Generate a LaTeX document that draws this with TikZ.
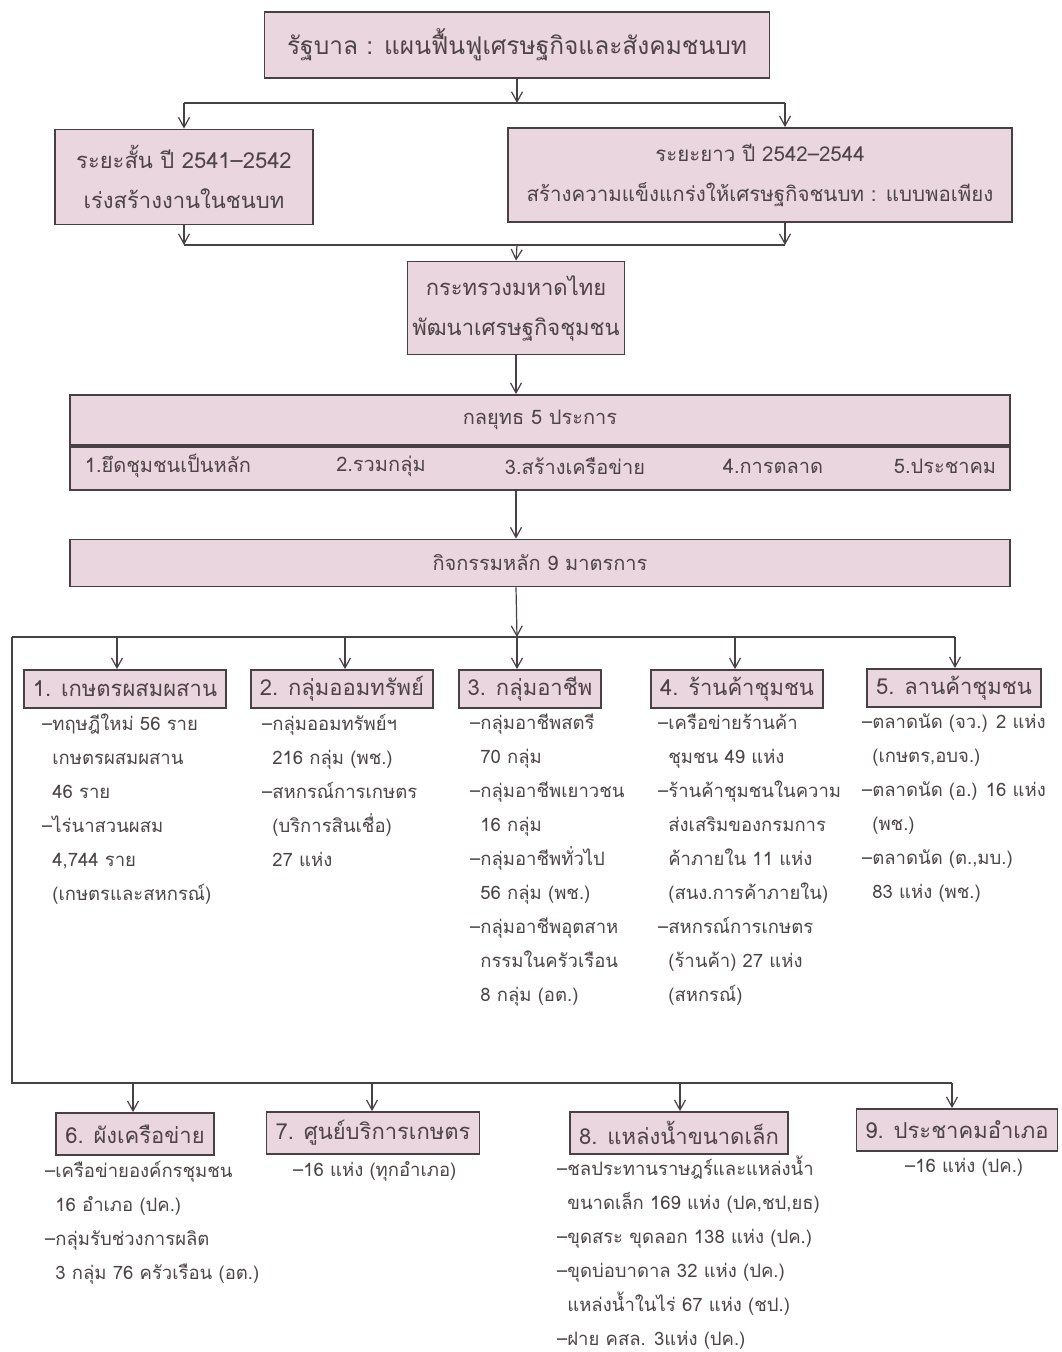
\documentclass[tikz,border=0pt]{standalone}
\usepackage{fontspec}
\newfontfamily\thaifont[Script=Thai]{Loma}
\usetikzlibrary{arrows.meta,positioning}
\definecolor{boxpink}{RGB}{233,214,222}
\definecolor{boxline}{RGB}{72,64,68}
\definecolor{inkgray}{RGB}{78,68,70}
\newcommand{\ind}{\phantom{–}}
\begin{document}
\begin{tikzpicture}[x=1pt, y=-1pt, >={Straight Barb[length=10pt,width=11pt]},
	hbox/.style={draw=boxline, fill=boxpink, line width=1.8pt, inner sep=0pt, text=inkgray},
	headbox/.style={hbox, inner xsep=9pt, minimum height=38pt, font=\thaifont\fontsize{22}{26}\selectfont},
	blist/.style={anchor=north west, align=left, inner sep=0pt, text=inkgray, font=\thaifont\fontsize{18.5}{34}\selectfont},
	conn/.style={draw=boxline, line width=1.2pt}]
	\useasboundingbox (0,0) rectangle (1062,1352);
	
	% 1. กล่องบนสุด
	\node[hbox, minimum width=505pt, minimum height=66pt, font=\thaifont\fontsize{24.5}{30}\selectfont] (govt) at (517,45) {รัฐบาล : แผนฟื้นฟูเศรษฐกิจและสังคมชนบท};
	\node[hbox, minimum width=258pt, minimum height=95pt, align=center, font=\thaifont\fontsize{22}{40}\selectfont] (short) at (184,177) {ระยะสั้น ปี 2541–2542\\เร่งสร้างงานในชนบท};
	\node[hbox, minimum width=504pt, minimum height=94pt, align=center, font=\thaifont\fontsize{20.5}{40}\selectfont] (long) at (760,175) {ระยะยาว ปี 2542–2544\\สร้างความแข็งแกร่งให้เศรษฐกิจชนบท : แบบพอเพียง};
	\node[hbox, minimum width=217pt, minimum height=93pt, align=center, font=\thaifont\fontsize{22}{40}\selectfont] (moi) at (516,308) {กระทรวงมหาดไทย\\พัฒนาเศรษฐกิจชุมชน};
	
	% 2. กลยุทธ และ กิจกรรมหลัก
	\node[hbox, minimum width=940pt, minimum height=50pt, font=\thaifont\fontsize{20}{24}\selectfont] (strat) at (540,420) {กลยุทธ 5 ประการ};
	\node[hbox, minimum width=940pt, minimum height=43pt, below=0pt of strat] (stratrow) {};
	\foreach \sx/\stxt [count=\si] in {168/1.ยึดชุมชนเป็นหลัก, 381/2.รวมกลุ่ม, 575/3.สร้างเครือข่าย, 773/4.การตลาด, 945/5.ประชาคม}
		\node[text=inkgray, font=\thaifont\fontsize{20}{24}\selectfont] (st\si) at (\sx,466) {\stxt};
	\node[hbox, minimum width=940pt, minimum height=47pt, font=\thaifont\fontsize{20}{24}\selectfont] (main) at (540,563) {กิจกรรมหลัก 9 มาตรการ};
	
	% 3. มาตรการ 1-5
	\node[headbox] (m1) at (125,689) {1. เกษตรผสมผสาน};
	\node[headbox] (m2) at (342,689) {2. กลุ่มออมทรัพย์};
	\node[headbox] (m3) at (530,689) {3. กลุ่มอาชีพ};
	\node[headbox] (m4) at (737,689) {4. ร้านค้าชุมชน};
	\node[headbox] (m5) at (954,688) {5. ลานค้าชุมชน};
	
	% 4. มาตรการ 6-9
	\node[headbox, minimum height=42pt] (m6) at (135,1134) {6. ผังเครือข่าย};
	\node[headbox, minimum height=42pt] (m7) at (373,1133) {7. ศูนย์บริการเกษตร};
	\node[headbox, minimum height=42pt] (m8) at (679,1133) {8. แหล่งน้ำขนาดเล็ก};
	\node[headbox, minimum height=42pt] (m9) at (957,1130) {9. ประชาคมอำเภอ};
	
	% 5. รายละเอียด
	\node[blist] (l1) at (42,714) {–ทฤษฎีใหม่ 56 ราย\\\ind เกษตรผสมผสาน\\\ind 46 ราย\\–ไร่นาสวนผสม\\\ind 4,744 ราย\\\ind (เกษตรและสหกรณ์)};
	\node[blist] (l2) at (262,714) {–กลุ่มออมทรัพย์ฯ\\\ind 216 กลุ่ม (พช.)\\–สหกรณ์การเกษตร\\\ind (บริการสินเชื่อ)\\\ind 27 แห่ง};
	\node[blist] (l3) at (470,714) {–กลุ่มอาชีพสตรี\\\ind 70 กลุ่ม\\–กลุ่มอาชีพเยาวชน\\\ind 16 กลุ่ม\\–กลุ่มอาชีพทั่วไป\\\ind 56 กลุ่ม (พช.)\\–กลุ่มอาชีพอุตสาห\\\ind กรรมในครัวเรือน\\\ind 8 กลุ่ม (อต.)};
	\node[blist] (l4) at (658,714) {–เครือข่ายร้านค้า\\\ind ชุมชน 49 แห่ง\\–ร้านค้าชุมชนในความ\\\ind ส่งเสริมของกรมการ\\\ind ค้าภายใน 11 แห่ง\\\ind (สนง.การค้าภายใน)\\–สหกรณ์การเกษตร\\\ind (ร้านค้า) 27 แห่ง\\\ind (สหกรณ์)};
	\node[blist] (l5) at (862,714) {–ตลาดนัด (จว.) 2 แห่ง\\\ind (เกษตร,อบจ.)\\–ตลาดนัด (อ.) 16 แห่ง\\\ind (พช.)\\–ตลาดนัด (ต.,มบ.)\\\ind 83 แห่ง (พช.)};
	\node[blist] (l6) at (45,1161) {–เครือข่ายองค์กรชุมชน\\\ind 16 อำเภอ (ปค.)\\–กลุ่มรับช่วงการผลิต\\\ind 3 กลุ่ม 76 ครัวเรือน (อต.)};
	\node[blist] (l7) at (293,1161) {–16 แห่ง (ทุกอำเภอ)};
	\node[blist] (l8) at (557,1156) {–ชลประทานราษฎร์และแหล่งน้ำ\\\ind ขนาดเล็ก 169 แห่ง (ปค,ชป,ยธ)\\–ขุดสระ ขุดลอก 138 แห่ง (ปค.)\\–ขุดบ่อบาดาล 32 แห่ง (ปค.)\\\ind แหล่งน้ำในไร่ 67 แห่ง (ชป.)\\–ฝาย คสล. 3แห่ง (ปค.)};
	\node[blist] (l9) at (905,1158) {–16 แห่ง (ปค.)};
	
	% 6. เส้นเชื่อม
	\coordinate (j1) at (517,103);
	\coordinate (j1l) at (184,103);
	\coordinate (j1r) at (785,103);
	\coordinate (j2) at (517,245);
	\coordinate (j2l) at (184,245);
	\coordinate (j2r) at (785,245);
	\coordinate (j3) at (517,637);
	\coordinate (j3l) at (12,637);
	\coordinate (j4l) at (12,1083);
	\draw[conn, ->] (govt.south) -- (j1);
	\draw[conn] (j1l) -- (j1r);
	\draw[conn, ->] (j1l) -- (short.north);
	\draw[conn, ->] (j1r) -- (j1r |- long.north);
	\draw[conn, ->] (short.south) -- (j2l);
	\draw[conn, ->] (j1r |- long.south) -- (j2r);
	\draw[conn] (j2l) -- (j2r);
	\draw[conn, ->] (j2) -- (moi.north);
	\draw[conn, ->] (moi.south) -- (moi.south |- strat.north);
	\draw[conn, ->] (moi.south |- stratrow.south) -- (moi.south |- main.north);
	\draw[conn, ->] (moi.south |- main.south) -- (j3);
	\draw[conn] (j3l) -- (955,637);
	\foreach \mx/\mn in {117/m1, 345/m2, 517/m3, 735/m4, 955/m5}
		\draw[conn, ->] (\mx,637) -- (\mx,637 |- \mn.north);
	\draw[conn] (j3l) -- (j4l) -- (952,1083);
	\foreach \mx/\mn in {133/m6, 372/m7, 680/m8, 952/m9}
		\draw[conn, ->] (\mx,1083) -- (\mx,1083 |- \mn.north);
\end{tikzpicture}
\end{document}
